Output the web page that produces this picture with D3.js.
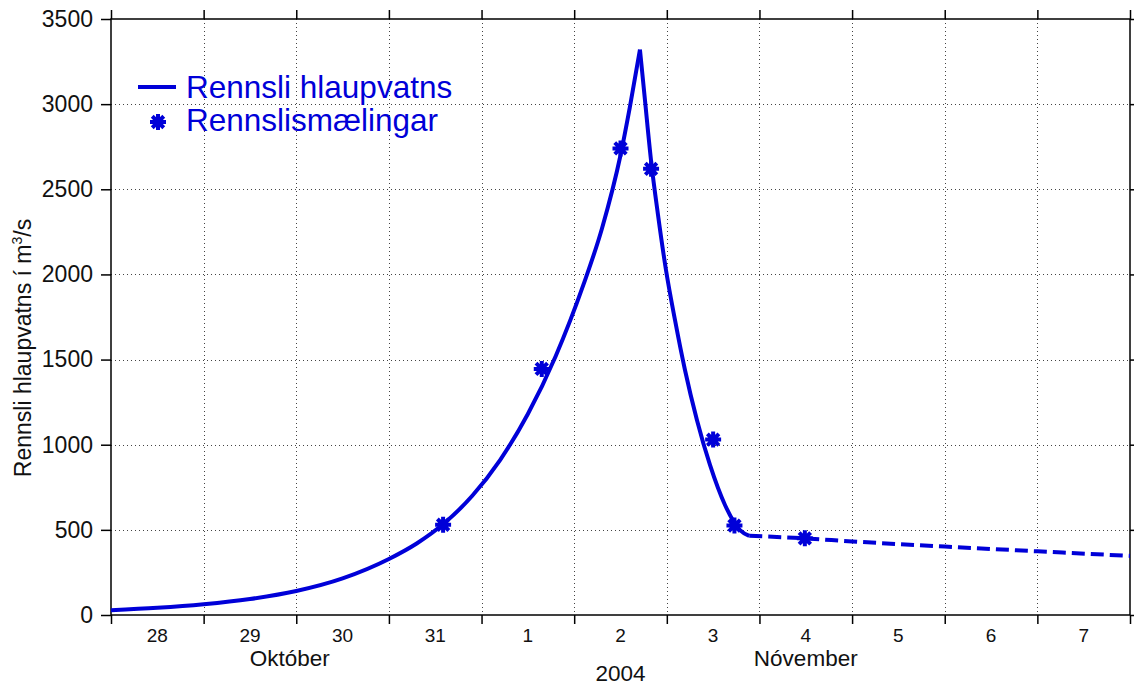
<!DOCTYPE html>
<html>
<head>
<meta charset="utf-8">
<script src="https://cdn.jsdelivr.net/npm/d3@7"></script>
<style>
  html, body { margin: 0; padding: 0; background: #fff; }
  svg { display: block; }
  text { font-family: "Liberation Sans", Arial, sans-serif; }
</style>
</head>
<body>
<svg id="chart" width="1134" height="686"></svg>
<script>
// ---- data (days counted from 28 Oct 2004 00:00) ----
const dayLabels = ["28", "29", "30", "31", "1", "2", "3", "4", "5", "6", "7"];
const yTicks = [0, 500, 1000, 1500, 2000, 2500, 3000, 3500];

// computed discharge (solid line)
const flowDay = [0.0, 0.5, 1.0, 1.5, 2.0, 2.5, 3.0, 3.3, 3.6, 3.9, 4.2, 4.5, 4.8, 5.1, 5.3, 5.5, 5.6, 5.71,
                 5.764, 5.829, 5.905, 5.991, 6.088, 6.196, 6.325, 6.466, 6.628, 6.79, 6.89];
const flowValue = [28, 42, 63, 94, 141, 215, 329, 420, 540, 700, 910, 1180, 1520, 1940, 2270, 2700, 2980, 3320,
                   3024, 2672, 2349, 2026, 1733, 1439, 1145, 881, 646, 499, 465];

// extrapolated discharge (dashed line)
const tailDay = [6.89, 7.49, 8.0, 9.0, 10.0, 11.0];
const tailValue = [465, 450, 432, 402, 374, 347];

// discharge measurements
const measDay = [3.585, 4.65, 5.50, 5.83, 6.50, 6.73, 7.49];
const measValue = [530, 1445, 2740, 2620, 1030, 525, 450];

const monthLabels = [{ text: "Október", day: 1.93 }, { text: "Nóvember", day: 7.5 }];
const yearLabel = { text: "2004", day: 5.5 };

// ---- layout ----
const M = { left: 111, right: 1130, top: 19, bottom: 615 };
const blue = "#0000d8";

const svg = d3.select("#chart");
const x = d3.scaleLinear().domain([0, 11]).range([M.left, M.right]);
const y = d3.scaleLinear().domain([0, 3500]).range([M.bottom, M.top]);

const dayTicks = d3.range(0, 12);

// grid
const grid = svg.append("g").attr("stroke", "#444").attr("stroke-width", 1).attr("stroke-dasharray", "1,3");
grid.selectAll("line.v").data(dayTicks.slice(1, -1)).join("line")
  .attr("x1", d => Math.round(x(d)) + 0.5).attr("x2", d => Math.round(x(d)) + 0.5)
  .attr("y1", M.top).attr("y2", M.bottom);
grid.selectAll("line.h").data(yTicks.slice(1, -1)).join("line")
  .attr("y1", d => Math.round(y(d)) + 0.5).attr("y2", d => Math.round(y(d)) + 0.5)
  .attr("x1", M.left).attr("x2", M.right);

// axes
const axisStyle = g => {
  g.select(".domain").remove();
  g.selectAll(".tick line").attr("stroke", "#000").attr("stroke-width", 1.5);
};
svg.append("g").attr("transform", `translate(${M.left},0)`)
  .call(d3.axisLeft(y).tickValues(yTicks).tickSize(10).tickPadding(8).tickFormat(d3.format("d")))
  .call(axisStyle)
  .selectAll("text").attr("font-size", 23).attr("fill", "#111").attr("font-family", "Liberation Sans, Arial, sans-serif");
svg.append("g").attr("transform", `translate(${M.right},0)`)
  .call(d3.axisRight(y).tickValues(yTicks).tickSize(8).tickFormat(""))
  .call(axisStyle);
svg.append("g").attr("transform", `translate(0,${M.bottom})`)
  .call(d3.axisBottom(x).tickValues(dayTicks).tickSize(9).tickFormat(""))
  .call(axisStyle);
svg.append("g").attr("transform", `translate(0,${M.top})`)
  .call(d3.axisTop(x).tickValues(dayTicks).tickSize(9).tickFormat(""))
  .call(axisStyle);

// frame
svg.append("rect").attr("x", M.left).attr("y", M.top)
  .attr("width", M.right - M.left).attr("height", M.bottom - M.top)
  .attr("fill", "none").attr("stroke", "#000").attr("stroke-width", 1.5);

// day labels at noon
svg.append("g").selectAll("text").data(dayLabels).join("text")
  .attr("x", (d, i) => x(i + 0.5)).attr("y", 642)
  .attr("text-anchor", "middle").attr("font-size", 19).attr("fill", "#111")
  .text(d => d);
svg.append("g").selectAll("text").data(monthLabels).join("text")
  .attr("x", d => x(d.day)).attr("y", 666)
  .attr("text-anchor", "middle").attr("font-size", 22.5).attr("fill", "#111")
  .text(d => d.text);
svg.append("text").attr("x", x(yearLabel.day)).attr("y", 681)
  .attr("text-anchor", "middle").attr("font-size", 22.5).attr("fill", "#111")
  .text(yearLabel.text);

// y title
const yt = svg.append("text").attr("transform", "translate(31,348) rotate(-90)")
  .attr("text-anchor", "middle").attr("font-size", 23).attr("fill", "#111");
yt.append("tspan").text("Rennsli hlaupvatns í m");
yt.append("tspan").attr("font-size", 14).attr("dy", -9).text("3");
yt.append("tspan").attr("dy", 9).text("/s");

// lines
const line = d3.line().x(d => x(d[0])).y(d => y(d[1])).curve(d3.curveMonotoneX);
const flow = flowDay.map((d, i) => [d, flowValue[i]]);
const peak = d3.maxIndex(flowValue);
const plot = svg.append("g");
[flow.slice(0, peak + 1), flow.slice(peak)].forEach(seg => {
  plot.append("path").attr("d", line(seg)).attr("fill", "none")
    .attr("stroke", blue).attr("stroke-width", 4).attr("stroke-linejoin", "round");
});
plot.append("path").attr("d", line(tailDay.map((d, i) => [d, tailValue[i]])))
  .attr("fill", "none").attr("stroke", blue).attr("stroke-width", 4).attr("stroke-dasharray", "13,6");

// asterisk markers
const r = 8;
const k = r * 0.72;
const asterisk = `M${-r},0L${r},0M0,${-r}L0,${r}M${-k},${-k}L${k},${k}M${-k},${k}L${k},${-k}`;
plot.selectAll("path.m").data(measDay).join("path")
  .attr("transform", (d, i) => `translate(${x(d)},${y(measValue[i])})`)
  .attr("d", asterisk).attr("stroke", blue).attr("stroke-width", 4).attr("fill", "none");

// legend
const lg = svg.append("g");
lg.append("line").attr("x1", 138).attr("x2", 176).attr("y1", 87).attr("y2", 87)
  .attr("stroke", blue).attr("stroke-width", 4);
lg.append("path").attr("transform", "translate(158,122)").attr("d", asterisk)
  .attr("stroke", blue).attr("stroke-width", 4);
lg.append("text").attr("x", 186).attr("y", 98).attr("font-size", 31.5).attr("fill", blue).text("Rennsli hlaupvatns");
lg.append("text").attr("x", 186).attr("y", 131).attr("font-size", 31.5).attr("fill", blue).text("Rennslismælingar");
</script>
</body>
</html>
